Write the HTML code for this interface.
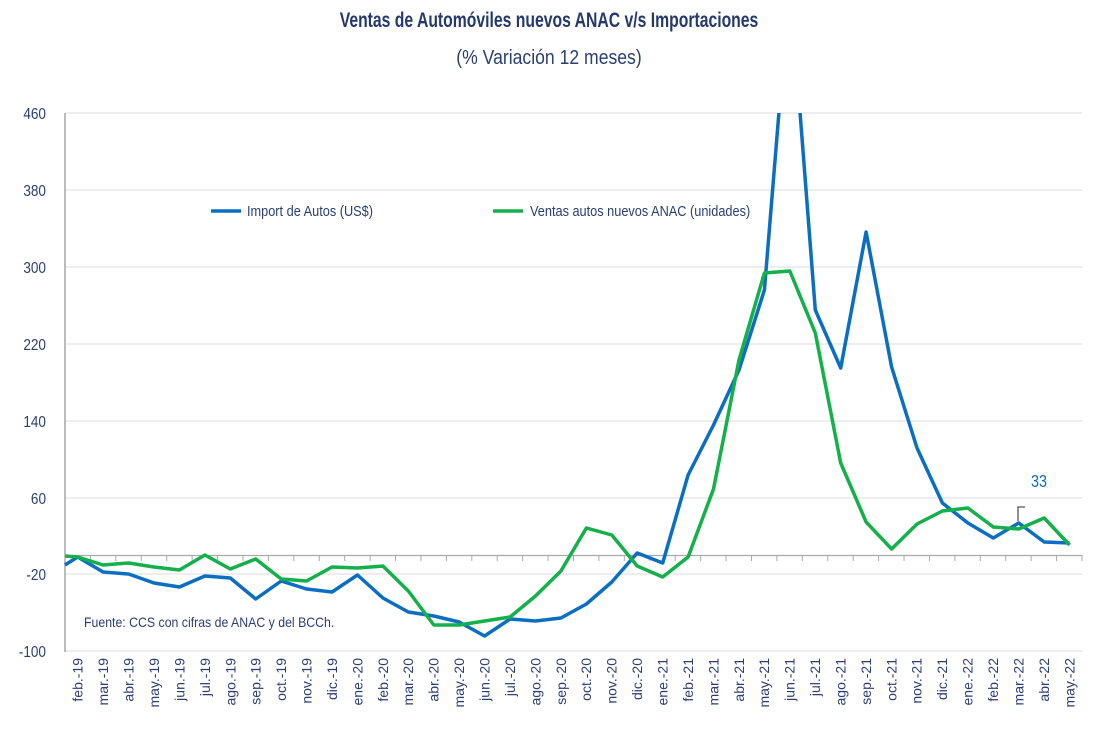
<!DOCTYPE html>
<html><head><meta charset="utf-8"><style>
body{margin:0;background:#fff;}
svg text{font-family:"Liberation Sans Narrow","Liberation Sans",sans-serif;fill:#2a3f73;}
</style></head><body>
<svg width="1098" height="731" viewBox="0 0 1098 731" xmlns="http://www.w3.org/2000/svg">
<defs><clipPath id="c"><rect x="60" y="113" width="1030" height="540"/></clipPath></defs>
<text x="549" y="27" text-anchor="middle" font-size="21" font-weight="bold" transform="translate(549 0) scale(0.75 1) translate(-549 0)" style="fill:#243a6e">Ventas de Automóviles nuevos ANAC v/s Importaciones</text>
<text x="549" y="64" text-anchor="middle" font-size="20" transform="translate(549 0) scale(0.88 1) translate(-549 0)">(% Variación 12 meses)</text>
<g stroke="#e3e3e3" stroke-width="1.3">
<line x1="65" x2="1082" y1="113" y2="113"/><line x1="65" x2="1082" y1="190" y2="190"/><line x1="65" x2="1082" y1="267" y2="267"/><line x1="65" x2="1082" y1="344" y2="344"/><line x1="65" x2="1082" y1="421" y2="421"/><line x1="65" x2="1082" y1="498" y2="498"/><line x1="65" x2="1082" y1="574" y2="574"/><line x1="65" x2="1082" y1="651" y2="651"/>
</g>
<line x1="65" x2="65" y1="113" y2="652" stroke="#999" stroke-width="1.3"/>
<line x1="65" x2="1082" y1="555.5" y2="555.5" stroke="#aaa" stroke-width="1.3"/>
<g stroke="#aaa" stroke-width="1" id="ticks"></g>
<g font-size="16" text-anchor="end">
<text x="46" y="119" transform="translate(46 0) scale(0.85 1) translate(-46 0)">460</text>
<text x="46" y="196" transform="translate(46 0) scale(0.85 1) translate(-46 0)">380</text>
<text x="46" y="273" transform="translate(46 0) scale(0.85 1) translate(-46 0)">300</text>
<text x="46" y="350" transform="translate(46 0) scale(0.85 1) translate(-46 0)">220</text>
<text x="46" y="427" transform="translate(46 0) scale(0.85 1) translate(-46 0)">140</text>
<text x="46" y="504" transform="translate(46 0) scale(0.85 1) translate(-46 0)">60</text>
<text x="46" y="580" transform="translate(46 0) scale(0.85 1) translate(-46 0)">-20</text>
<text x="46" y="657" transform="translate(46 0) scale(0.85 1) translate(-46 0)">-100</text>
</g>
<g clip-path="url(#c)" fill="none" stroke-width="3.5" stroke-linejoin="round">
<polyline stroke="#0a6fc2" points="65,565 77.7,557 103.1,572 128.6,574 154,583 179.4,587 204.9,576 230.3,578 255.7,599 281.2,581 306.6,589 332,592 357.5,575 382.9,598 408.3,612 433.8,616 459.2,622 484.6,636 510.1,619 535.5,621 560.9,618 586.4,604 611.8,582 637.2,553 662.7,563 688.1,475 713.5,425 739,370 764.4,290 789.8,-20 815.3,310 840.7,368 866.1,232 891.6,367 917,448 942.4,503 967.9,523 993.3,538 1018.7,523 1044.2,542 1069.6,543"/>
<polyline stroke="#14b04a" points="65,556 77.7,557 103.1,565 128.6,563 154,567 179.4,570 204.9,555 230.3,569 255.7,559 281.2,579 306.6,581 332,567 357.5,568 382.9,566 408.3,591 433.8,625 459.2,625 484.6,621 510.1,617 535.5,596 560.9,571 586.4,528 611.8,535 637.2,566 662.7,577 688.1,557 713.5,489 739,360 764.4,273 789.8,271 815.3,333 840.7,463 866.1,522 891.6,549 917,524 942.4,511 967.9,508 993.3,527 1018.7,529 1044.2,518 1069.6,545"/>
</g>
<line x1="211" x2="241" y1="211" y2="211" stroke="#0a6fc2" stroke-width="3.5"/>
<text x="247" y="216" font-size="15" transform="translate(247 0) scale(0.85 1) translate(-247 0)">Import de Autos (US$)</text>
<line x1="493" x2="523" y1="211" y2="211" stroke="#14b04a" stroke-width="3.5"/>
<text x="530" y="216" font-size="15" transform="translate(530 0) scale(0.85 1) translate(-530 0)">Ventas autos nuevos ANAC (unidades)</text>
<text x="84" y="627" font-size="14" transform="translate(84 0) scale(0.88 1) translate(-84 0)">Fuente: CCS con cifras de ANAC y del BCCh.</text>
<polyline points="1018,521 1018,507 1025,507" fill="none" stroke="#555" stroke-width="1.3"/>
<text x="1031" y="487" font-size="18" style="fill:#0a6fc2" transform="translate(1031 0) scale(0.8 1) translate(-1031 0)">33</text>
<g font-size="14" text-anchor="end" id="xl"></g>
</svg>
<script>
var m=["feb.-19","mar.-19","abr.-19","may.-19","jun.-19","jul.-19","ago.-19","sep.-19","oct.-19","nov.-19","dic.-19","ene.-20","feb.-20","mar.-20","abr.-20","may.-20","jun.-20","jul.-20","ago.-20","sep.-20","oct.-20","nov.-20","dic.-20","ene.-21","feb.-21","mar.-21","abr.-21","may.-21","jun.-21","jul.-21","ago.-21","sep.-21","oct.-21","nov.-21","dic.-21","ene.-22","feb.-22","mar.-22","abr.-22","may.-22"];
var ns="http://www.w3.org/2000/svg",xl=document.getElementById("xl"),tk=document.getElementById("ticks");
for(var i=0;i<=40;i++){var x=65+i*25.425;var l=document.createElementNS(ns,"line");l.setAttribute("x1",x);l.setAttribute("x2",x);l.setAttribute("y1",555);l.setAttribute("y2",561);tk.appendChild(l);}
m.forEach(function(s,i){var x=77.7+i*25.425+5;var t=document.createElementNS(ns,"text");t.setAttribute("transform","translate("+x+" 658) rotate(-90)");t.textContent=s;xl.appendChild(t);});
</script>
</body></html>
